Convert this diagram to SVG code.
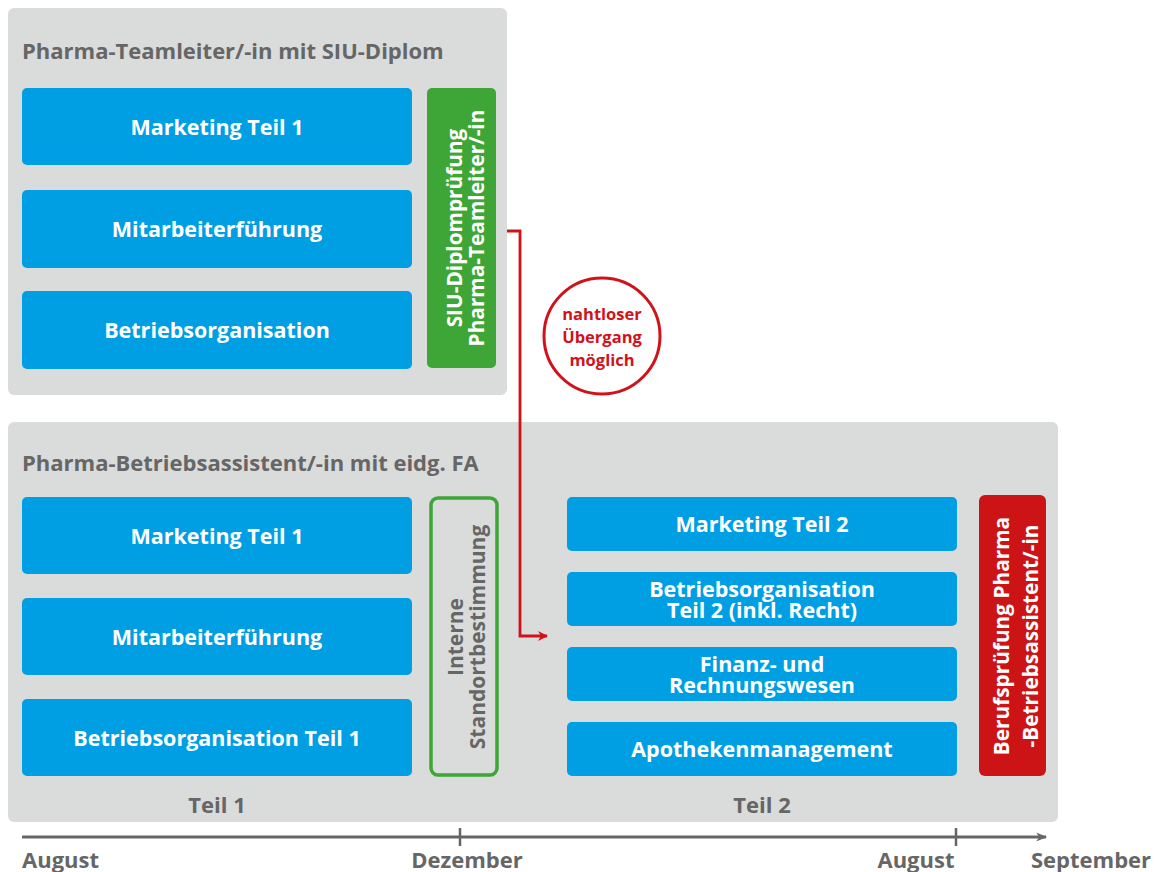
<svg xmlns="http://www.w3.org/2000/svg" width="1159" height="872" viewBox="0 0 1159 872">
<style>
.panel{fill:#DADBDB}
.blue{fill:#009FE3}
.t{font-family:"Open Sans","Noto Sans","Liberation Sans",sans-serif;font-weight:bold}
.w{fill:#FFFFFF;font-size:21.5px;text-anchor:middle}
.g{fill:#666666}
.h{font-size:22px}
.r{fill:#D0121B;font-size:16.5px;text-anchor:middle}
.v{fill:#FFFFFF;font-size:20.8px;text-anchor:middle}
</style>
<defs>
<marker id="ar" viewBox="0 0 10 10" refX="9" refY="5" markerWidth="13" markerHeight="10" markerUnits="userSpaceOnUse" orient="auto">
<path d="M0,0 L10,5 L0,10 L3,5 Z" fill="#D0121B"/>
</marker>
<marker id="ag" viewBox="0 0 10 10" refX="9" refY="5" markerWidth="14" markerHeight="11" markerUnits="userSpaceOnUse" orient="auto">
<path d="M0,1 L10,5 L0,9 L3,5 Z" fill="#666666"/>
</marker>
</defs>

<g id="panel-top">
<rect class="panel" x="8" y="8" width="499" height="387" rx="6"/>
<text class="t g h" x="22" y="59">Pharma-Teamleiter/-in mit SIU-Diplom</text>
</g>
<g id="top-marketing"><rect class="blue" x="22" y="88" width="390" height="77" rx="5"/><text class="t w" x="217" y="135">Marketing Teil 1</text></g>
<g id="top-mitarbeiter"><rect class="blue" x="22" y="190" width="390" height="78" rx="5"/><text class="t w" x="217" y="237">Mitarbeiterführung</text></g>
<g id="top-betrieb"><rect class="blue" x="22" y="291" width="390" height="78" rx="5"/><text class="t w" x="217" y="338">Betriebsorganisation</text></g>
<g id="siu-pruefung">
<rect x="427" y="88" width="69" height="280" rx="5" fill="#3DA636"/>
<text class="t v" transform="translate(461,228) rotate(-90)"><tspan x="0" y="1">SIU-Diplomprüfung</tspan><tspan x="0" y="23">Pharma-Teamleiter/-in</tspan></text>
</g>

<g id="panel-bottom">
<rect class="panel" x="8" y="422" width="1050" height="400" rx="6"/>
<text class="t g h" x="22" y="471">Pharma-Betriebsassistent/-in mit eidg. FA</text>
<text class="t g h" x="217" y="813" text-anchor="middle">Teil 1</text>
<text class="t g h" x="762" y="813" text-anchor="middle">Teil 2</text>
</g>
<g id="b-marketing1"><rect class="blue" x="22" y="497" width="390" height="77" rx="5"/><text class="t w" x="217" y="544">Marketing Teil 1</text></g>
<g id="b-mitarbeiter"><rect class="blue" x="22" y="598" width="390" height="77" rx="5"/><text class="t w" x="217" y="645">Mitarbeiterführung</text></g>
<g id="b-betrieb1"><rect class="blue" x="22" y="699" width="390" height="77" rx="5"/><text class="t w" x="217" y="746">Betriebsorganisation Teil 1</text></g>
<g id="standort">
<rect x="431" y="498" width="66" height="277" rx="7" fill="none" stroke="#3DA636" stroke-width="3.5"/>
<text class="t g" font-size="21" text-anchor="middle" transform="translate(464,637) rotate(-90)"><tspan x="0" y="-1">Interne</tspan><tspan x="0" y="21">Standortbestimmung</tspan></text>
</g>
<g id="b-marketing2"><rect class="blue" x="567" y="497" width="390" height="54" rx="5"/><text class="t w" x="762" y="532">Marketing Teil 2</text></g>
<g id="b-betrieb2"><rect class="blue" x="567" y="572" width="390" height="54" rx="5"/><text class="t w" x="762" y="597">Betriebsorganisation</text><text class="t w" x="762" y="618">Teil 2 (inkl. Recht)</text></g>
<g id="b-finanz"><rect class="blue" x="567" y="647" width="390" height="54" rx="5"/><text class="t w" x="762" y="672">Finanz- und</text><text class="t w" x="762" y="693">Rechnungswesen</text></g>
<g id="b-apotheke"><rect class="blue" x="567" y="722" width="390" height="54" rx="5"/><text class="t w" x="762" y="757">Apothekenmanagement</text></g>
<g id="berufspruefung">
<rect x="979" y="495" width="67" height="281" rx="6" fill="#CC1417"/>
<text class="t v" transform="translate(1012,636) rotate(-90)"><tspan x="0" y="-3">Berufsprüfung Pharma</tspan><tspan x="0" y="26">-Betriebsassistent/-in</tspan></text>
</g>

<g id="hinweis">
<circle cx="602" cy="336" r="58" fill="#FFFFFF" stroke="#D0121B" stroke-width="3"/>
<text class="t r" x="602" y="320">nahtloser</text>
<text class="t r" x="602" y="343">Übergang</text>
<text class="t r" x="602" y="366">möglich</text>
</g>

<g id="connectors">
<path d="M507,231 H520 V636 H547" fill="none" stroke="#D0121B" stroke-width="2.8" marker-end="url(#ar)"/>
</g>

<g id="timeline">
<path d="M22,837 H1046" fill="none" stroke="#666666" stroke-width="3" marker-end="url(#ag)"/>
<path d="M460,828 V846 M956,828 V846" stroke="#666666" stroke-width="2.5"/>
<text class="t g h" x="22" y="868">August</text>
<text class="t g h" x="467" y="868" text-anchor="middle">Dezember</text>
<text class="t g h" x="916" y="868" text-anchor="middle">August</text>
<text class="t g h" x="1091" y="868" text-anchor="middle">September</text>
</g>
</svg>
